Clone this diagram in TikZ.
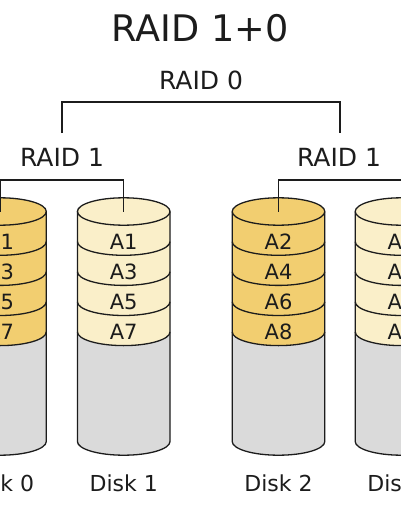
\documentclass[tikz,border=0pt]{standalone}
\usepackage{fontspec}
\setmainfont{DejaVu Sans}
\usepackage{xcolor}
\usepackage{tikz}
\definecolor{ink}{RGB}{28,28,28}
\definecolor{gold}{RGB}{242,206,112}
\definecolor{cream}{RGB}{250,239,201}
\definecolor{diskgray}{RGB}{218,218,218}

\begin{document}
\begin{tikzpicture}[x=1pt,y=-1pt,line width=1.3pt,draw=ink,text=ink,
    heading/.style={font=\fontsize{36.6}{40}\selectfont,anchor=base,inner sep=0pt},
    level/.style={font=\fontsize{25}{28}\selectfont,anchor=base,inner sep=0pt},
    block/.style={font=\fontsize{21}{24}\selectfont,inner sep=0pt},
    disklabel/.style={font=\fontsize{22}{25}\selectfont,anchor=base,inner sep=0pt}]
        \useasboundingbox[fill=white] (0,0) rectangle (400,516);
        \node[heading] (title) at (200,41.7) {RAID 1+0};
        \node[level] (raid0) at (201,89.3) {RAID 0};
        \node[level] (raidL) at (62,166) {RAID 1};
        \node[level] (raidR) at (339,166) {RAID 1};
        % disks
        \foreach \cx/\col/\s/\n in {0/gold/1/0,123.7/cream/1/1,278.5/gold/2/2,401.5/cream/2/3}{
          \fill[diskgray] (\cx-46.3,211.5) -- (\cx-46.3,441.5)
            arc[start angle=180,end angle=0,x radius=46.3,y radius=13.7] -- (\cx+46.3,211.5) -- cycle;
          \fill[\col] (\cx-46.3,211.5) -- (\cx-46.3,331.9)
            arc[start angle=180,end angle=0,x radius=46.3,y radius=13.7] -- (\cx+46.3,211.5)
            arc[start angle=0,end angle=-180,x radius=46.3,y radius=13.7] -- cycle;
          \draw (\cx,211.5) ellipse[x radius=46.3,y radius=13.7];
          \foreach \k in {1,...,4}
            \draw (\cx-46.3,211.5+30.1*\k) arc[start angle=180,end angle=0,x radius=46.3,y radius=13.7];
          \draw (\cx-46.3,211.5) -- (\cx-46.3,441.5)
            arc[start angle=180,end angle=0,x radius=46.3,y radius=13.7] -- (\cx+46.3,211.5);
          \foreach \k in {0,...,3}{
            \pgfmathtruncatemacro\b{2*\k+\s}
            \node[block] (b\n\k) at (\cx,241.6+30.1*\k) {A\b};
          }
          \coordinate (top\n) at (\cx,211.5);
          \node[disklabel] (disk\n) at (\cx,491.7) {Disk \n};
        }
        % brackets
        \coordinate (legL) at (62,133);
        \coordinate (legR) at (340,133);
        \coordinate (join0) at (201,102);
        \draw (legL) |- (join0) -| (legR);
        \draw (top0) -- ++(0,-31.5) -| (top1);
        \draw (top2) -- ++(0,-31.5) -| (top3);
      \end{tikzpicture}
\end{document}
